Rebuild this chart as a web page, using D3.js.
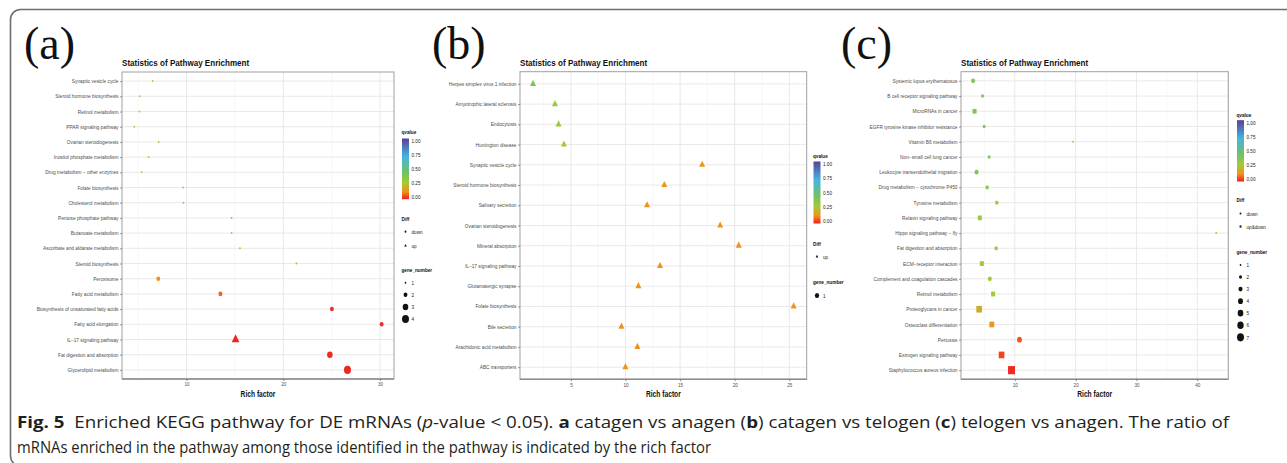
<!DOCTYPE html>
<html>
<head>
<meta charset="utf-8">
<script src="https://cdn.jsdelivr.net/npm/d3@7"></script>
<style>
  body { margin: 0; background: #fff; }
  svg { display: block; }
  text { white-space: pre; }
</style>
</head>
<body>
<svg id="fig" width="1287" height="463"></svg>
<script>
// ---------- (a) catagen vs anagen ----------
const catsA = ["Synaptic vesicle cycle", "Steroid hormone biosynthesis", "Retinol metabolism",
  "PPAR signaling pathway", "Ovarian steroidogenesis", "Inositol phosphate metabolism",
  "Drug metabolism \u2212 other enzymes", "Folate biosynthesis", "Cholesterol metabolism",
  "Pentose phosphate pathway", "Butanoate metabolism", "Ascorbate and aldarate metabolism",
  "Steroid biosynthesis", "Peroxisome", "Fatty acid metabolism",
  "Biosynthesis of unsaturated fatty acids", "Fatty acid elongation", "IL\u221217 signaling pathway",
  "Fat digestion and absorption", "Glycerolipid metabolism"];
const richA = [6.50, 5.16, 5.13, 4.61, 7.12, 6.09, 5.37, 9.65, 9.69, 14.66, 14.66, 15.52, 21.35,
  7.08, 13.50, 25.02, 30.16, 15.07, 24.81, 26.63];
const qA = [0.27, 0.27, 0.27, 0.27, 0.27, 0.27, 0.27, 0.24, 0.20, 0.20, 0.20, 0.20, 0.20,
  0.12, 0.07, 0.015, 0.015, 0.01, 0.015, 0.01];
const geneA = [1, 1, 1, 1, 1, 1, 1, 1, 1, 1, 1, 1, 1, 2, 2, 2, 2, 3, 3, 4];
const diffA = ["down", "down", "down", "down", "down", "down", "down", "down", "down", "down",
  "down", "down", "down", "down", "down", "down", "down", "up", "down", "down"];
const ticksA = [10, 20, 30];
const diffKeysA = ["down", "up"];
const geneKeysA = [1, 2, 3, 4];

// ---------- (b) catagen vs telogen ----------
const catsB = ["Herpes simplex virus 1 infection", "Amyotrophic lateral sclerosis", "Endocytosis",
  "Huntington disease", "Synaptic vesicle cycle", "Steroid hormone biosynthesis",
  "Salivary secretion", "Ovarian steroidogenesis", "Mineral absorption",
  "IL\u221217 signaling pathway", "Glutamatergic synapse", "Folate biosynthesis",
  "Bile secretion", "Arachidonic acid metabolism", "ABC transporters"];
const richB = [1.53, 3.54, 3.87, 4.36, 17.02, 13.55, 11.97, 18.67, 20.37, 13.16, 11.18, 25.40,
  9.63, 11.09, 9.99];
const qB = [0.40, 0.30, 0.29, 0.27, 0.13, 0.13, 0.13, 0.13, 0.13, 0.13, 0.13, 0.135, 0.13, 0.13, 0.13];
const geneB = [1, 1, 1, 1, 1, 1, 1, 1, 1, 1, 1, 1, 1, 1, 1];
const diffB = ["up", "up", "up", "up", "up", "up", "up", "up", "up", "up", "up", "up", "up", "up", "up"];
const ticksB = [5, 10, 15, 20, 25];
const diffKeysB = ["up"];
const geneKeysB = [1];

// ---------- (c) telogen vs anagen ----------
const catsC = ["Systemic lupus erythematosus", "B cell receptor signaling pathway", "MicroRNAs in cancer",
  "EGFR tyrosine kinase inhibitor resistance", "Vitamin B6 metabolism", "Non\u2212small cell lung cancer",
  "Leukocyte transendothelial migration", "Drug metabolism \u2212 cytochrome P450",
  "Tyrosine metabolism", "Relaxin signaling pathway", "Hippo signaling pathway \u2212 fly",
  "Fat digestion and absorption", "ECM\u2212receptor interaction", "Complement and coagulation cascades",
  "Retinol metabolism", "Proteoglycans in cancer", "Osteoclast differentiation", "Pertussis",
  "Estrogen signaling pathway", "Staphylococcus aureus infection"];
const richC = [3.15, 4.69, 3.38, 4.96, 19.57, 5.78, 3.71, 5.45, 7.04, 4.25, 43.10, 6.93, 4.58,
  5.89, 6.43, 4.14, 6.22, 10.77, 7.82, 9.46];
const qC = [0.38, 0.38, 0.38, 0.38, 0.30, 0.38, 0.38, 0.36, 0.29, 0.29, 0.29, 0.28, 0.28, 0.28,
  0.28, 0.20, 0.14, 0.06, 0.04, 0.015];
const geneC = [3, 2, 3, 2, 1, 2, 3, 2, 2, 3, 1, 2, 3, 3, 3, 5, 4, 4, 5, 7];
const diffC = ["down", "down", "up&down", "down", "down", "down", "down", "up&down", "up&down",
  "up&down", "down", "up&down", "up&down", "down", "up&down", "up&down", "up&down", "down",
  "up&down", "up&down"];
const ticksC = [10, 20, 30, 40];
const diffKeysC = ["down", "up&down"];
const geneKeysC = [1, 2, 3, 4, 5, 6, 7];

// qvalue colour bar
const qBreaks = [1.00, 0.75, 0.50, 0.25, 0.00];
const qStops = [0, 0.12, 0.27, 0.45, 0.70, 1];
const qColors = ["#ee1c24", "#f39019", "#a3cb34", "#6fc06a", "#45b6df", "#5a3f99"];

const color = d3.scaleLinear().domain(qStops).range(qColors).clamp(true);
const shapeOf = { "down": "circle", "up": "triangle", "up&down": "square" };
const SX = 0.85;          // horizontal squeeze of the plotted glyphs
const SANS = "'Liberation Sans', Arial, Helvetica, sans-serif";

const svg = d3.select("#fig");

// gradient for the colour bar
const grad = svg.append("defs").append("linearGradient").attr("id", "qgrad")
  .attr("x1", 0).attr("y1", 1).attr("x2", 0).attr("y2", 0);
qStops.forEach((s, i) => grad.append("stop").attr("offset", s).attr("stop-color", qColors[i]));

// rounded frame
svg.append("rect").attr("x", 10.5).attr("y", 9.5).attr("width", 1300).attr("height", 456.5)
  .attr("rx", 10).attr("fill", "none").attr("stroke", "#6e6e6e").attr("stroke-width", 1.6);

function symbolPath(shape, r) {
  if (shape === "square") { const s = 2.0 * r; return d3.symbol(d3.symbolSquare, s * s)(); }
  if (shape === "triangle") { const s = 2.8 * r; return d3.symbol(d3.symbolTriangle, s * s * Math.sqrt(3) / 4)(); }
  return d3.symbol(d3.symbolCircle, Math.PI * r * r)();
}

function label(g, x, y, s, o) {
  return g.append("text")
    .attr("transform", `translate(${x},${y}) scale(${o.sx || 1},1)`)
    .attr("font-family", o.family || SANS)
    .attr("font-size", o.size)
    .attr("font-weight", o.weight || "normal")
    .attr("fill", o.fill || "#1a1a1a")
    .attr("text-anchor", o.anchor || "start")
    .attr("dominant-baseline", o.base || "auto")
    .text(s);
}

const panels = [
  { tag: "(a)", tagX: 24, cats: catsA, rich: richA, q: qA, gene: geneA, diff: diffA, ticks: ticksA,
    diffKeys: diffKeysA, geneKeys: geneKeysA,
    box: { left: 122, right: 394, top: 72, bottom: 379 },
    leg: { x: 401.5, qTitle: 134, q1: 141, q0: 196.7, diffTitle: 220.5, diffY: 231.7, diffStep: 14,
           geneTitle: 272.3, geneY: 282.7, geneStep: 12.1 } },
  { tag: "(b)", tagX: 432, cats: catsB, rich: richB, q: qB, gene: geneB, diff: diffB, ticks: ticksB,
    diffKeys: diffKeysB, geneKeys: geneKeysB,
    box: { left: 520, right: 806.7, top: 71.7, bottom: 379.3 },
    leg: { x: 813, qTitle: 157.5, q1: 164, q0: 221, diffTitle: 245.5, diffY: 256.5, diffStep: 14,
           geneTitle: 284, geneY: 295.5, geneStep: 12.1 } },
  { tag: "(c)", tagX: 841, cats: catsC, rich: richC, q: qC, gene: geneC, diff: diffC, ticks: ticksC,
    diffKeys: diffKeysC, geneKeys: geneKeysC,
    box: { left: 961, right: 1228.3, top: 71.7, bottom: 379.3 },
    leg: { x: 1236.5, qTitle: 116.8, q1: 122.7, q0: 179, diffTitle: 201.5, diffY: 213.5, diffStep: 13,
           geneTitle: 254, geneY: 265, geneStep: 12.05 } }
];

panels.forEach(p => {
  const b = p.box;
  const g = svg.append("g");

  // x domain: data range padded by 5% on each side
  const [lo, hi] = d3.extent(p.rich);
  const pad = (hi - lo) * 0.05;
  const x = d3.scaleLinear().domain([lo - pad, hi + pad]).range([b.left, b.right]);
  const y = d3.scalePoint().domain(p.cats).range([b.top, b.bottom]).padding(0.6);
  const r = d3.scalePow().exponent(0.5).domain(d3.extent(p.gene)).range([1.0, 4.1]);

  // panel tag and title
  label(g, p.tagX, 59, p.tag, { size: 46, family: "'Liberation Serif', 'Times New Roman', serif", fill: "#111" });
  label(g, b.left, 66, "Statistics of Pathway Enrichment", { size: 9.6, weight: "bold", sx: 0.84, fill: "#111" });

  // background + grid
  g.append("rect").attr("x", b.left).attr("y", b.top).attr("width", b.right - b.left)
    .attr("height", b.bottom - b.top).attr("fill", "#fff");
  const step = p.ticks[1] - p.ticks[0];
  const minor = [p.ticks[0] - step / 2, ...p.ticks.map(t => t + step / 2)]
    .filter(v => v > x.domain()[0] && v < x.domain()[1]);
  g.selectAll(".gmin").data(minor).join("line")
    .attr("x1", d => x(d)).attr("x2", d => x(d)).attr("y1", b.top).attr("y2", b.bottom)
    .attr("stroke", "#f2f2f2").attr("stroke-width", 0.6);
  g.selectAll(".gmaj").data(p.ticks).join("line")
    .attr("x1", d => x(d)).attr("x2", d => x(d)).attr("y1", b.top).attr("y2", b.bottom)
    .attr("stroke", "#e6e6e6").attr("stroke-width", 0.9);
  g.selectAll(".gy").data(p.cats).join("line")
    .attr("x1", b.left).attr("x2", b.right).attr("y1", d => y(d)).attr("y2", d => y(d))
    .attr("stroke", "#e6e6e6").attr("stroke-width", 0.9);

  // points
  g.selectAll(".pt").data(p.cats).join("path")
    .attr("transform", (d, i) => `translate(${x(p.rich[i])},${y(d)}) scale(${SX},1)`)
    .attr("d", (d, i) => symbolPath(shapeOf[p.diff[i]], r(p.gene[i])))
    .attr("fill", (d, i) => color(p.q[i]));

  // panel border
  g.append("rect").attr("x", b.left).attr("y", b.top).attr("width", b.right - b.left)
    .attr("height", b.bottom - b.top).attr("fill", "none").attr("stroke", "#a0a0a0").attr("stroke-width", 1);
  g.append("line").attr("x1", b.left).attr("x2", b.right).attr("y1", b.bottom).attr("y2", b.bottom)
    .attr("stroke", "#8c8c8c").attr("stroke-width", 1.5);

  // axes
  const ya = g.append("g").attr("transform", `translate(${b.left},0)`)
    .call(d3.axisLeft(y).tickSize(2).tickPadding(1.5));
  ya.select(".domain").remove();
  ya.selectAll("line").attr("stroke", "#555").attr("stroke-width", 0.6);
  ya.selectAll("text").attr("font-family", SANS).attr("font-size", 4.8).attr("fill", "#4d4d4d");

  const xa = g.append("g").attr("transform", `translate(0,${b.bottom})`)
    .call(d3.axisBottom(x).tickValues(p.ticks).tickSize(2).tickPadding(2));
  xa.select(".domain").remove();
  xa.selectAll("line").attr("stroke", "#555").attr("stroke-width", 0.6);
  xa.selectAll("text").attr("font-family", SANS).attr("font-size", 4.6).attr("fill", "#4d4d4d");

  label(g, (b.left + b.right) / 2, 396.5, "Rich factor",
    { size: 8.8, weight: "bold", sx: 0.76, anchor: "middle", fill: "#111" });

  // ---- legends ----
  const L = p.leg;
  const titleOpt = { size: 6, weight: "bold", sx: 0.78, fill: "#111" };
  const textOpt = { size: 5.8, sx: 0.8, base: "central", fill: "#222" };

  label(g, L.x, L.qTitle, "qvalue", titleOpt);
  const qy = d3.scaleLinear().domain([0, 1]).range([L.q0, L.q1]);
  g.append("rect").attr("x", L.x + 0.5).attr("y", qy(1) - 2.5).attr("width", 7)
    .attr("height", qy(0) - qy(1) + 5).attr("fill", "url(#qgrad)");
  qBreaks.forEach(v => label(g, L.x + 10, qy(v), v.toFixed(2), textOpt));

  label(g, L.x, L.diffTitle, "Diff", titleOpt);
  p.diffKeys.forEach((k, i) => {
    const ky = L.diffY + i * L.diffStep;
    g.append("path").attr("transform", `translate(${L.x + 4},${ky}) scale(${SX},1)`)
      .attr("d", symbolPath(shapeOf[k], 1.1)).attr("fill", "#111");
    label(g, L.x + 10, ky, k, textOpt);
  });

  label(g, L.x, L.geneTitle, "gene_number", titleOpt);
  p.geneKeys.forEach((k, i) => {
    const ky = L.geneY + i * L.geneStep;
    g.append("path").attr("transform", `translate(${L.x + 4},${ky}) scale(${SX},1)`)
      .attr("d", symbolPath("circle", r(k))).attr("fill", "#111");
    label(g, L.x + 10, ky, String(k), textOpt);
  });
});

// ---------- caption ----------
const CAP = "'Open Sans', 'Noto Sans', sans-serif";
const cap1 = svg.append("text").attr("x", 17).attr("y", 428)
  .attr("font-family", CAP).attr("font-size", 16.5).attr("fill", "#231f20")
  .attr("textLength", 1212).attr("lengthAdjust", "spacingAndGlyphs");
[["Fig. 5", "bold"], ["  Enriched KEGG pathway for DE mRNAs (", null], ["p", "italic"],
 ["-value < 0.05). ", null], ["a", "bold"], [" catagen vs anagen (", null], ["b", "bold"],
 [") catagen vs telogen (", null], ["c", "bold"], [") telogen vs anagen. The ratio of", null]]
  .forEach(([s, st]) => {
    const t = cap1.append("tspan").text(s);
    if (st === "bold") t.attr("font-weight", "bold");
    if (st === "italic") t.attr("font-style", "italic");
  });
svg.append("text").attr("x", 17).attr("y", 453)
  .attr("font-family", CAP).attr("font-size", 16.5).attr("fill", "#231f20")
  .attr("textLength", 694).attr("lengthAdjust", "spacingAndGlyphs")
  .text("mRNAs enriched in the pathway among those identified in the pathway is indicated by the rich factor");
</script>
</body>
</html>
